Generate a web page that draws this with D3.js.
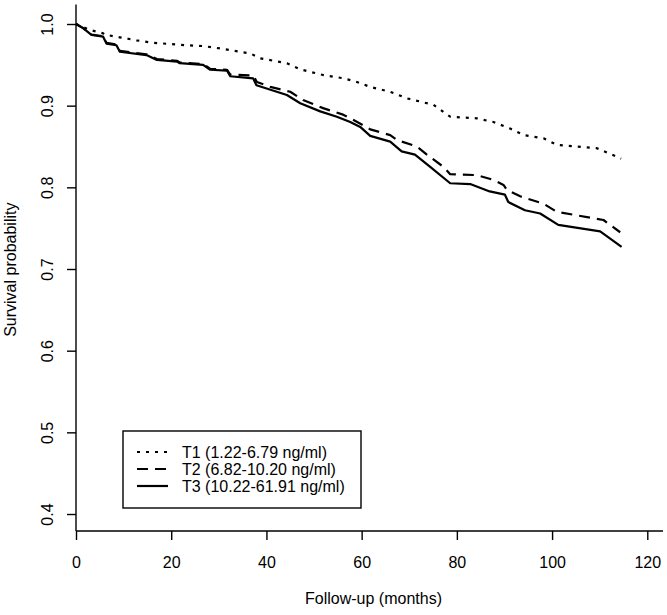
<!DOCTYPE html>
<html>
<head>
<meta charset="utf-8">
<script src="https://cdn.jsdelivr.net/npm/d3@7"></script>
<style>
  html, body { margin: 0; padding: 0; background: #fff; }
  svg { display: block; font-family: "Liberation Sans", Arial, sans-serif; }
</style>
</head>
<body>
<svg id="chart" width="667" height="615"></svg>
<script>
// ---- data ----
const seriesNames = ["T1 (1.22-6.79 ng/ml)", "T2 (6.82-10.20 ng/ml)", "T3 (10.22-61.91 ng/ml)"];
const t1Time = [0, 2.9, 5.7, 6, 9.2, 12.7, 16.2, 23.2, 26.7, 30.3, 36.6, 38.7, 44.3, 47.1, 51.9, 56.2, 59, 61.8, 66, 69.5, 75.1, 78.6, 84.2, 87.7, 91.2, 94, 98.2, 101, 109.4, 113.6, 114.5];
const t1Surv = [1, 0.9927, 0.9886, 0.987, 0.9837, 0.980, 0.977, 0.974, 0.973, 0.970, 0.964, 0.958, 0.952, 0.9445, 0.9375, 0.9335, 0.929, 0.923, 0.917, 0.909, 0.901, 0.8865, 0.8845, 0.880, 0.872, 0.864, 0.860, 0.852, 0.848, 0.8375, 0.835];
const t2Time = [0, 1.5, 3.3, 5.7, 6.4, 8.5, 9.2, 14.8, 17, 21.2, 21.8, 26.7, 28.2, 31.7, 32.4, 37.2, 38, 40.8, 45, 47.7, 51.9, 56.1, 58.3, 61.8, 66, 67.4, 71.6, 73.7, 77.2, 78.6, 84.2, 87.7, 89.8, 90.5, 93.3, 98.2, 101, 110.8, 114.3];
const t2Surv = [1, 0.995, 0.987, 0.985, 0.977, 0.975, 0.967, 0.963, 0.957, 0.955, 0.953, 0.951, 0.945, 0.944, 0.938, 0.937, 0.929, 0.923, 0.917, 0.907, 0.897, 0.889, 0.8825, 0.871, 0.864, 0.858, 0.850, 0.840, 0.825, 0.816, 0.815, 0.809, 0.803, 0.797, 0.789, 0.780, 0.770, 0.760, 0.745];
const t3Time = [0, 1.5, 3.3, 5.7, 6.4, 8.5, 9.2, 14.8, 17, 21.2, 21.8, 26.7, 28.2, 31.7, 32.4, 37.2, 37.9, 44.3, 47.1, 51.3, 54.8, 57.6, 59.7, 61.8, 66, 68.4, 71.2, 74.4, 78.6, 82.8, 86.9, 90.1, 90.8, 94.3, 97.5, 101.3, 110.1, 114.6];
const t3Surv = [1, 0.995, 0.9865, 0.9845, 0.976, 0.974, 0.966, 0.962, 0.956, 0.954, 0.952, 0.950, 0.944, 0.943, 0.936, 0.9335, 0.925, 0.913, 0.903, 0.893, 0.8865, 0.880, 0.874, 0.863, 0.856, 0.844, 0.840, 0.825, 0.805, 0.804, 0.795, 0.791, 0.782, 0.772, 0.768, 0.754, 0.746, 0.727];
const xTicks = [0, 20, 40, 60, 80, 100, 120];
const yTicks = [0.4, 0.5, 0.6, 0.7, 0.8, 0.9, 1.0];
const xTitle = "Follow-up (months)";
const yTitle = "Survival probability";

// ---- layout ----
const pLeft = 76, pRight = 663, pTop = 4.4, pBottom = 531;
const x = d3.scaleLinear().domain([0, 123.3]).range([pLeft, pRight]);
const y = d3.scaleLinear().domain([0.3792, 1.024]).range([pBottom, pTop]);

const svg = d3.select("#chart");
const FS = 16;

// box (L shape)
svg.append("line").attr("x1", pLeft).attr("x2", pLeft).attr("y1", pTop).attr("y2", pBottom)
  .attr("stroke", "#000").attr("stroke-width", 1.4);
svg.append("line").attr("x1", pLeft).attr("x2", pRight).attr("y1", pBottom).attr("y2", pBottom)
  .attr("stroke", "#000").attr("stroke-width", 1.4);

// x axis
const gx = svg.append("g").attr("transform", `translate(0,${pBottom})`)
  .call(d3.axisBottom(x).tickValues(xTicks).tickSize(9).tickFormat(d3.format("d")));
gx.select(".domain").remove();
gx.selectAll(".tick line").attr("stroke", "#000").attr("stroke-width", 1.4);
gx.selectAll(".tick text").attr("y", 31).attr("dy", null)
  .attr("dominant-baseline", "central").attr("font-size", FS).attr("fill", "#000")
  .attr("font-family", "Liberation Sans, Arial, sans-serif");

// y axis
const gy = svg.append("g").attr("transform", `translate(${pLeft},0)`)
  .call(d3.axisLeft(y).tickValues(yTicks).tickSize(9).tickFormat(d3.format(".1f")));
gy.select(".domain").remove();
gy.selectAll(".tick line").attr("stroke", "#000").attr("stroke-width", 1.4);
gy.selectAll(".tick text").attr("x", 0).attr("y", 0).attr("dy", null)
  .attr("text-anchor", "middle").attr("dominant-baseline", "central")
  .attr("transform", "translate(-29,0) rotate(-90)")
  .attr("font-size", FS).attr("fill", "#000")
  .attr("font-family", "Liberation Sans, Arial, sans-serif");

// titles
svg.append("text").attr("x", (pLeft + pRight) / 2 + 4).attr("y", 598)
  .attr("text-anchor", "middle").attr("dominant-baseline", "central")
  .attr("font-size", FS).text(xTitle);
svg.append("text").attr("transform", `translate(10,${(pTop + pBottom) / 2 + 2}) rotate(-90)`)
  .attr("text-anchor", "middle").attr("dominant-baseline", "central")
  .attr("font-size", FS).text(yTitle);

// curves
const styles = [
  { dash: "3,6", width: 2.2 },
  { dash: "11,7", width: 2.2 },
  { dash: null, width: 2.2 }
];
const series = [
  t1Time.map((t, i) => [t, t1Surv[i]]),
  t2Time.map((t, i) => [t, t2Surv[i]]),
  t3Time.map((t, i) => [t, t3Surv[i]])
];
const line = d3.line().x(d => x(d[0])).y(d => y(d[1]));
series.forEach((s, i) => {
  svg.append("path").datum(s).attr("d", line)
    .attr("fill", "none").attr("stroke", "#000")
    .attr("stroke-width", styles[i].width)
    .attr("stroke-dasharray", styles[i].dash)
    .attr("stroke-linejoin", "round");
});

// legend
const lg = svg.append("g");
lg.append("rect").attr("x", 123).attr("y", 431).attr("width", 238).attr("height", 77)
  .attr("fill", "#fff").attr("stroke", "#000").attr("stroke-width", 1.4);
const rowY = [452, 469, 486];
seriesNames.forEach((name, i) => {
  lg.append("line").attr("x1", 137).attr("x2", 168).attr("y1", rowY[i]).attr("y2", rowY[i])
    .attr("stroke", "#000").attr("stroke-width", styles[i].width)
    .attr("stroke-dasharray", styles[i].dash);
  lg.append("text").attr("x", 182).attr("y", rowY[i]).attr("dominant-baseline", "central")
    .attr("font-size", FS).text(name);
});
</script>
</body>
</html>
